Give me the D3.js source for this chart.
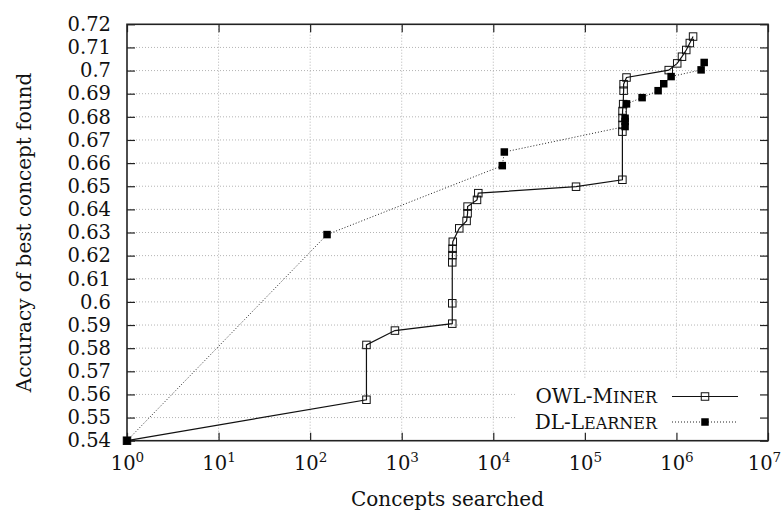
<!DOCTYPE html>
<html>
<head>
<meta charset="utf-8">
<script src="https://cdn.jsdelivr.net/npm/d3@7"></script>
<style>
    body { margin: 0; background: #fff; }
    svg { display: block; font-family: "DejaVu Serif", serif; }
</style>
</head>
<body>
<svg id="chart01" width="782" height="513"></svg>
<script>
// ---- Dados
const owlConcepts = [1, 412, 412, 843, 3565, 3565, 3565, 3580, 3590, 3610, 4250, 5110, 5240, 5240, 6640, 6860,
    80100, 257000, 257000, 258000, 258000, 258000, 262000, 265000, 265000, 285000,
    824000, 1020000, 1150000, 1280000, 1400000, 1520000];
const owlAccuracy = [0.54, 0.5577, 0.5814, 0.5876, 0.5906, 0.5994, 0.6171, 0.6202, 0.623, 0.626, 0.6318, 0.635, 0.6383, 0.6412, 0.6441, 0.647,
    0.6498, 0.6528, 0.6736, 0.6765, 0.6795, 0.6825, 0.6855, 0.6913, 0.6941, 0.697,
    0.7002, 0.7031, 0.706, 0.7089, 0.7119, 0.7147];

const dlConcepts = [1, 153, 12540, 13200, 275000, 275000, 275000, 285000, 422000, 631000, 727000, 875000, 1860000, 2010000];
const dlAccuracy = [0.54, 0.6291, 0.6589, 0.6648, 0.6758, 0.678, 0.6794, 0.6856, 0.6883, 0.6913, 0.6943, 0.6974, 0.7003, 0.7035];

const xTicks = [1, 10, 100, 1000, 1e4, 1e5, 1e6, 1e7];
const yTicks = d3.range(0.54, 0.7201, 0.01).map(v => +v.toFixed(2));
const seriesNames = [['OWL-M', 'iner'], ['DL-L', 'earner']];

const owl = owlConcepts.map((c, i) => ({ x: c, y: owlAccuracy[i] }));
const dl = dlConcepts.map((c, i) => ({ x: c, y: dlAccuracy[i] }));

const svg = d3.select('#chart01');
const margens = { left: 127, right: 14, top: 24.3, bottom: 72.3 };
const W = 782, H = 513;

// ---- Escalas
const mapX = d3.scaleLog().domain([1, 1e7]).range([margens.left, W - margens.right]);
const mapY = d3.scaleLinear().domain([0.54, 0.72]).range([H - margens.bottom, margens.top]);

// ---- Grade
const grid = svg.append('g').attr('class', 'grid')
    .attr('stroke', '#b4b4b4').attr('stroke-width', 1).attr('stroke-dasharray', '1,2');
grid.selectAll('line.h')
    .data(yTicks.slice(1, -1))
    .join('line')
    .attr('class', 'h')
    .attr('x1', mapX(1)).attr('x2', mapX(1e7))
    .attr('y1', d => mapY(d)).attr('y2', d => mapY(d));
grid.selectAll('line.v')
    .data(xTicks.slice(1, -1))
    .join('line')
    .attr('class', 'v')
    .attr('y1', mapY(0.54)).attr('y2', mapY(0.72))
    .attr('x1', d => mapX(d)).attr('x2', d => mapX(d));

// ---- Fundo da legenda (cobre a grade)
svg.append('rect')
    .attr('x', 515).attr('y', 379)
    .attr('width', mapX(1e7) - 515).attr('height', mapY(0.54) - 379)
    .attr('fill', '#fff');

// ---- Eixos
const fontSize = 20;
const tickFont = 19.5;

const xAxis = d3.axisBottom(mapX).tickValues(xTicks).tickSize(-8).tickPadding(10).tickFormat('');
svg.append('g')
    .attr('transform', `translate(0, ${mapY(0.54)})`)
    .call(xAxis)
    .call(g => g.select('.domain').remove())
    .call(g => g.selectAll('.tick text').each(function (d) {
        const t = d3.select(this)
            .attr('font-size', tickFont)
            .attr('font-family', '"DejaVu Serif", serif')
            .attr('fill', '#111')
            .attr('dy', '1.0em');
        t.append('tspan').text('10');
        t.append('tspan').attr('font-size', 13.5).attr('dy', '-0.6em').text(Math.round(Math.log10(d)));
    }))
    .call(g => g.selectAll('.tick').filter(d => d === 1e7).select('text').attr('x', -4));

const xTop = d3.axisTop(mapX).tickValues(xTicks).tickSize(-8).tickFormat('');
svg.append('g')
    .attr('transform', `translate(0, ${mapY(0.72)})`)
    .call(xTop)
    .call(g => g.select('.domain').remove());

const yAxis = d3.axisLeft(mapY).tickValues(yTicks).tickSize(-8).tickPadding(16).tickFormat(d => String(d));
svg.append('g')
    .attr('transform', `translate(${mapX(1)}, 0)`)
    .call(yAxis)
    .call(g => g.select('.domain').remove())
    .call(g => g.selectAll('.tick text')
        .attr('font-size', tickFont)
        .attr('font-family', '"DejaVu Serif", serif')
        .attr('fill', '#111'));

const yRight = d3.axisRight(mapY).tickValues(yTicks).tickSize(-8).tickFormat('');
svg.append('g')
    .attr('transform', `translate(${mapX(1e7)}, 0)`)
    .call(yRight)
    .call(g => g.select('.domain').remove());

svg.selectAll('.tick line').attr('stroke', '#222').attr('stroke-width', 1.2);

// ---- Moldura
svg.append('rect')
    .attr('x', mapX(1)).attr('y', mapY(0.72))
    .attr('width', mapX(1e7) - mapX(1)).attr('height', mapY(0.54) - mapY(0.72))
    .attr('fill', 'none').attr('stroke', '#222').attr('stroke-width', 1.6);

// ---- Títulos dos eixos
svg.append('text')
    .attr('x', (mapX(1) + mapX(1e7)) / 2).attr('y', 506)
    .attr('text-anchor', 'middle')
    .attr('font-size', fontSize)
    .attr('fill', '#111')
    .text('Concepts searched');

svg.append('text')
    .attr('transform', `translate(31, ${(mapY(0.54) + mapY(0.72)) / 2}) rotate(-90)`)
    .attr('text-anchor', 'middle')
    .attr('font-size', fontSize)
    .attr('fill', '#111')
    .text('Accuracy of best concept found');

// ---- Séries
const line = d3.line().x(d => mapX(d.x)).y(d => mapY(d.y));

svg.append('path')
    .datum(dl)
    .attr('d', line)
    .attr('fill', 'none').attr('stroke', '#222').attr('stroke-width', 1)
    .attr('stroke-dasharray', '1,2');

svg.append('path')
    .datum(owl)
    .attr('d', line)
    .attr('fill', 'none').attr('stroke', '#111').attr('stroke-width', 1.2);

const s = 7.5;
svg.append('g').selectAll('rect')
    .data(owl)
    .join('rect')
    .attr('x', d => mapX(d.x) - s / 2).attr('y', d => mapY(d.y) - s / 2)
    .attr('width', s).attr('height', s)
    .attr('fill', 'none').attr('stroke', '#111').attr('stroke-width', 1);

svg.append('g').selectAll('rect')
    .data(dl)
    .join('rect')
    .attr('x', d => mapX(d.x) - s / 2).attr('y', d => mapY(d.y) - s / 2)
    .attr('width', s).attr('height', s)
    .attr('fill', '#000');

// ---- Legenda (versalete: resto do nome maior, em small-caps)
const legend = svg.append('g');
const rows = [396.5, 422];
seriesNames.forEach((name, i) => {
    const t = legend.append('text')
        .attr('x', 657).attr('y', rows[i] + 6.5)
        .attr('text-anchor', 'end')
        .attr('font-size', fontSize)
        .attr('fill', '#111');
    t.append('tspan').text(name[0]);
    t.append('tspan')
        .attr('font-size', 23)
        .style('font-variant', 'small-caps')
        .text(name[1]);
    legend.append('line')
        .attr('x1', 672).attr('x2', 738)
        .attr('y1', rows[i]).attr('y2', rows[i])
        .attr('stroke', i === 0 ? '#111' : '#222')
        .attr('stroke-width', i === 0 ? 1.2 : 1)
        .attr('stroke-dasharray', i === 0 ? null : '1,2');
    legend.append('rect')
        .attr('x', 705 - s / 2).attr('y', rows[i] - s / 2)
        .attr('width', s).attr('height', s)
        .attr('fill', i === 0 ? 'none' : '#000')
        .attr('stroke', i === 0 ? '#111' : null)
        .attr('stroke-width', 1);
});
</script>
</body>
</html>
